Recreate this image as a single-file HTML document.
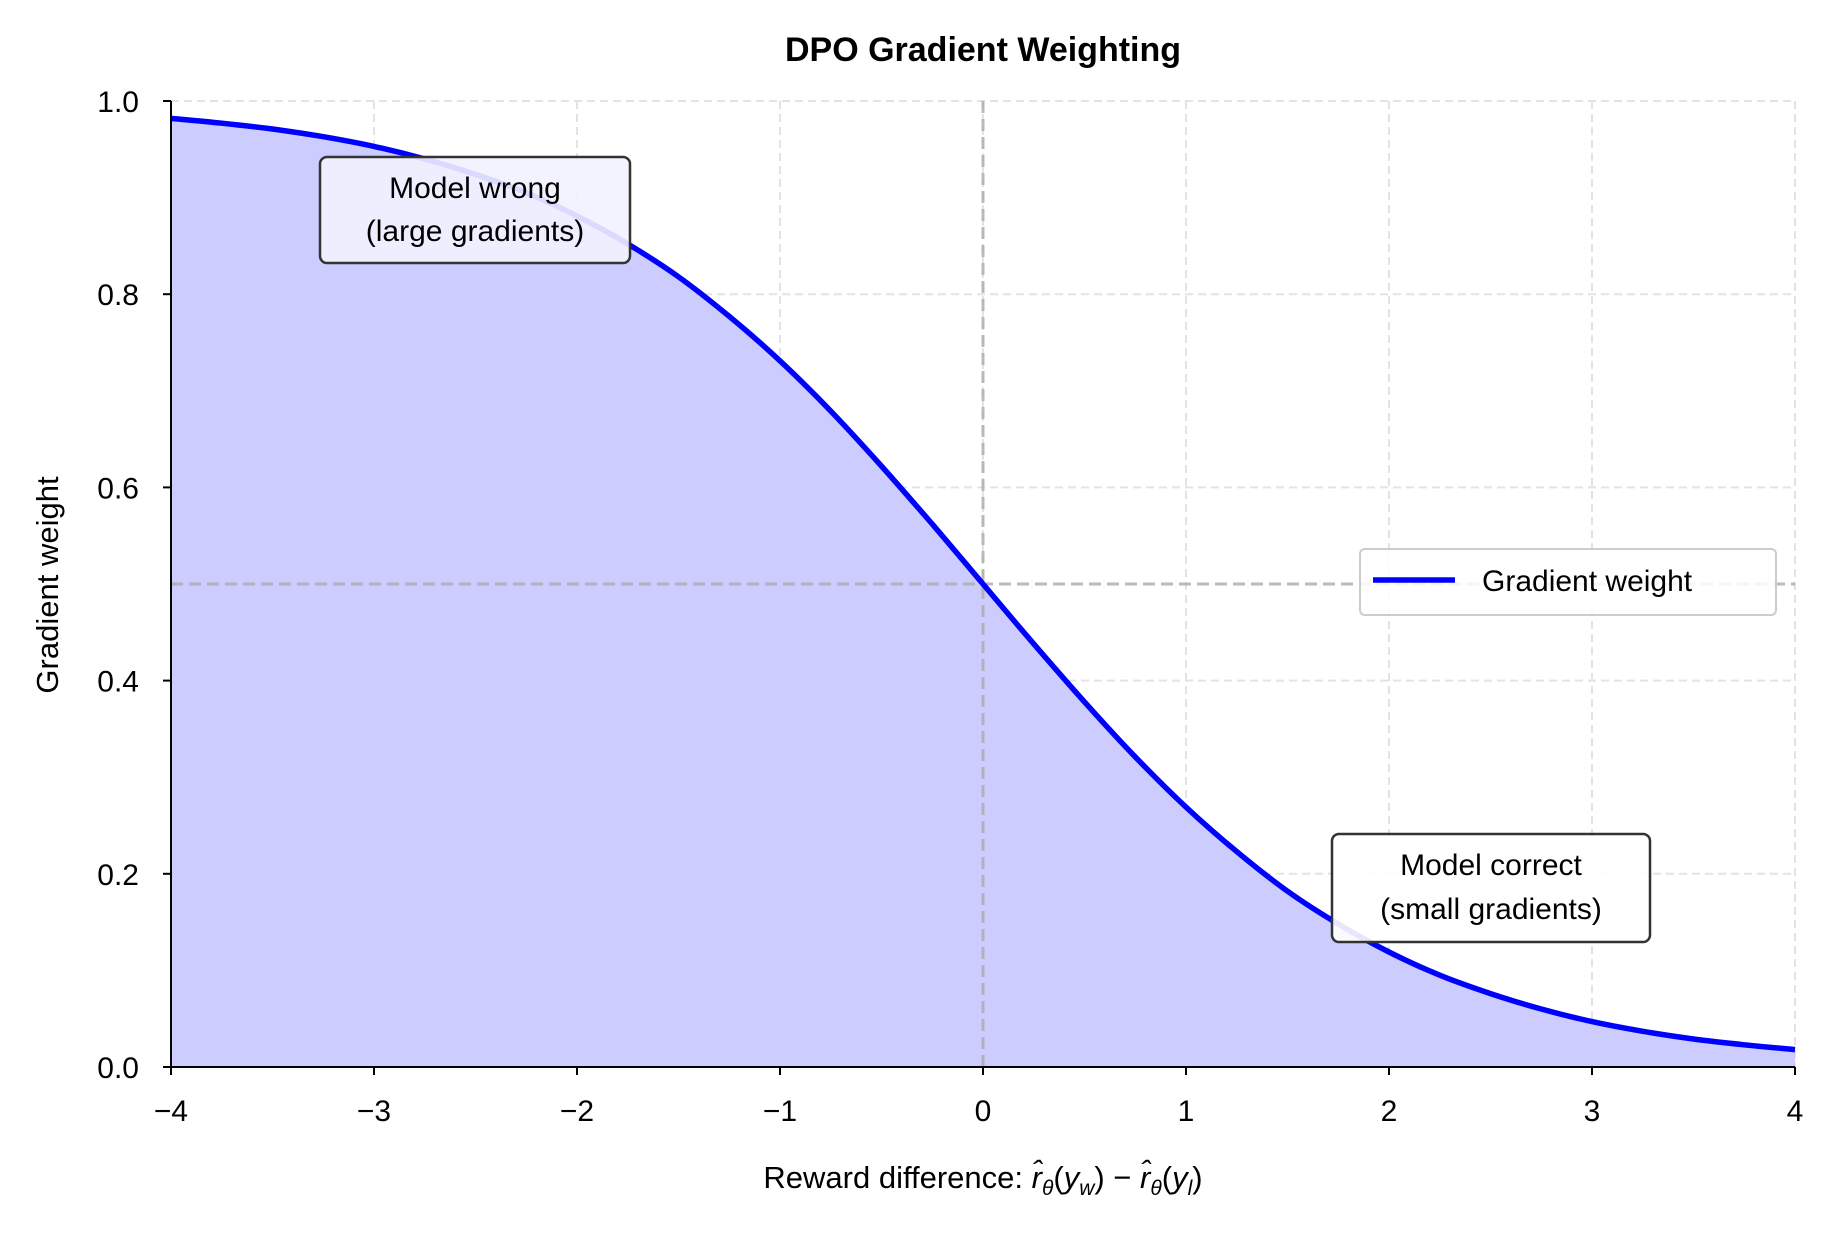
<!DOCTYPE html>
<html><head><meta charset="utf-8">
<style>
html,body{margin:0;padding:0;background:#fff;}
svg{display:block;font-family:"Liberation Sans",sans-serif;}
</style></head>
<body>
<svg id="chart" width="1834" height="1234" viewBox="0 0 1834 1234" xmlns="http://www.w3.org/2000/svg">
<text x="983" y="61" text-anchor="middle" font-size="34" font-weight="bold">DPO Gradient Weighting</text>
<g id="grid"></g>
<g id="plot"></g>
<g id="axes"></g>
<text transform="translate(58,585) rotate(-90)" text-anchor="middle" font-size="31">Gradient weight</text>
<text x="983" y="1188" text-anchor="middle" font-size="31">Reward difference: <tspan font-style="italic">r̂</tspan><tspan font-style="italic" font-size="21" dy="7">θ</tspan><tspan dy="-7">(</tspan><tspan font-style="italic">y</tspan><tspan font-style="italic" font-size="21" dy="7">w</tspan><tspan dy="-7">) − </tspan><tspan font-style="italic">r̂</tspan><tspan font-style="italic" font-size="21" dy="7">θ</tspan><tspan dy="-7">(</tspan><tspan font-style="italic">y</tspan><tspan font-style="italic" font-size="21" dy="7">l</tspan><tspan dy="-7">)</tspan></text>
<g>
<rect x="320" y="157" width="310" height="106" rx="7" fill="#f2f2ff" fill-opacity="0.9" stroke="#333" stroke-width="2.5"/>
<text x="475" y="198" text-anchor="middle" font-size="30">Model wrong</text>
<text x="475" y="241" text-anchor="middle" font-size="30">(large gradients)</text>
</g>
<g>
<rect x="1332" y="834" width="318" height="108" rx="7" fill="#fff" fill-opacity="0.9" stroke="#333" stroke-width="2.5"/>
<text x="1491" y="875" text-anchor="middle" font-size="30">Model correct</text>
<text x="1491" y="919" text-anchor="middle" font-size="30">(small gradients)</text>
</g>
<g>
<rect x="1360" y="549" width="416" height="66" rx="5" fill="#fff" fill-opacity="0.85" stroke="#ccc" stroke-width="2"/>
<line x1="1373" y1="580" x2="1455" y2="580" stroke="#0000ff" stroke-width="5.5"/>
<text x="1482" y="591" font-size="30">Gradient weight</text>
</g>
</svg>
<script>
const xValues=[-4,-3.75,-3.5,-3.25,-3,-2.75,-2.5,-2.25,-2,-1.75,-1.5,-1.25,-1,-0.75,-0.5,-0.25,0,0.25,0.5,0.75,1,1.25,1.5,1.75,2,2.25,2.5,2.75,3,3.25,3.5,3.75,4];
const weightValues=[0.982,0.977,0.971,0.963,0.953,0.940,0.924,0.905,0.881,0.852,0.818,0.777,0.731,0.679,0.622,0.562,0.5,0.438,0.378,0.321,0.269,0.223,0.182,0.148,0.119,0.095,0.076,0.060,0.047,0.037,0.029,0.023,0.018];
const xTicks=[-4,-3,-2,-1,0,1,2,3,4];
const xTickLabels=["−4","−3","−2","−1","0","1","2","3","4"];
const yTicks=[0,0.2,0.4,0.6,0.8,1.0];
const yTickLabels=["0.0","0.2","0.4","0.6","0.8","1.0"];
const refX=0, refY=0.5;
const X0=171,X1=1795,Y0=1067,Y1=101;
const sx=v=>X0+(v+4)/8*(X1-X0);
const sy=v=>Y0-v*(Y0-Y1);
const NS="http://www.w3.org/2000/svg";
function mk(tag,attrs,parent){const e=document.createElementNS(NS,tag);for(const k in attrs)e.setAttribute(k,attrs[k]);parent.appendChild(e);return e;}
const grid=document.getElementById('grid'),plot=document.getElementById('plot'),axes=document.getElementById('axes');
xTicks.forEach(t=>{const l=mk('line',{x1:sx(t),x2:sx(t),y1:Y1,y2:Y0,stroke:'#e3e3e3','stroke-width':2,'stroke-dasharray':'8,5'},grid);

});
yTicks.forEach(t=>{const l=mk('line',{x1:X0,x2:X1,y1:sy(t),y2:sy(t),stroke:'#e3e3e3','stroke-width':2,'stroke-dasharray':'8,5'},grid);

});
const P=xValues.map((x,i)=>[sx(x),sy(weightValues[i])]);
let d='M'+P[0][0].toFixed(1)+','+P[0][1].toFixed(1);
for(let i=0;i<P.length-1;i++){const p0=P[Math.max(i-1,0)],p1=P[i],p2=P[i+1],p3=P[Math.min(i+2,P.length-1)];
const c1=[p1[0]+(p2[0]-p0[0])/6,p1[1]+(p2[1]-p0[1])/6],c2=[p2[0]-(p3[0]-p1[0])/6,p2[1]-(p3[1]-p1[1])/6];
d+='C'+c1[0].toFixed(1)+','+c1[1].toFixed(1)+' '+c2[0].toFixed(1)+','+c2[1].toFixed(1)+' '+p2[0].toFixed(1)+','+p2[1].toFixed(1);}
const area=mk('path',{d:d+'L'+sx(xValues[xValues.length-1])+','+sy(0)+'L'+sx(xValues[0])+','+sy(0)+'Z',fill:'#ccccff'},plot);


const h=mk('line',{x1:X0,x2:X1,y1:sy(refY),y2:sy(refY),stroke:'#aaa','stroke-width':3,'stroke-dasharray':'12,6','stroke-opacity':0.8},plot);


const v=mk('line',{x1:sx(refX),x2:sx(refX),y1:Y1,y2:Y0,stroke:'#aaa','stroke-width':3,'stroke-dasharray':'12,6','stroke-opacity':0.8},plot);


const line=mk('path',{d:d,fill:'none',stroke:'#0000ff','stroke-width':5.5,'stroke-linejoin':'round'},plot);


const ax=mk('line',{x1:X0,x2:X1,y1:Y0,y2:Y0,stroke:'#000','stroke-width':2},axes);


const ay=mk('line',{x1:X0,x2:X0,y1:Y1,y2:Y0,stroke:'#000','stroke-width':2},axes);


xTicks.forEach((t,i)=>{mk('line',{x1:sx(t),x2:sx(t),y1:Y0,y2:Y0+8,stroke:'#000','stroke-width':2},axes);
const tx=mk('text',{x:sx(t),y:Y0+54,'text-anchor':'middle','font-size':30},axes);tx.textContent=xTickLabels[i];

});
yTicks.forEach((t,i)=>{mk('line',{x1:X0-8,x2:X0,y1:sy(t),y2:sy(t),stroke:'#000','stroke-width':2},axes);
const tx=mk('text',{x:X0-32,y:sy(t)+11,'text-anchor':'end','font-size':30},axes);tx.textContent=yTickLabels[i];

});
</script>
</body></html>
